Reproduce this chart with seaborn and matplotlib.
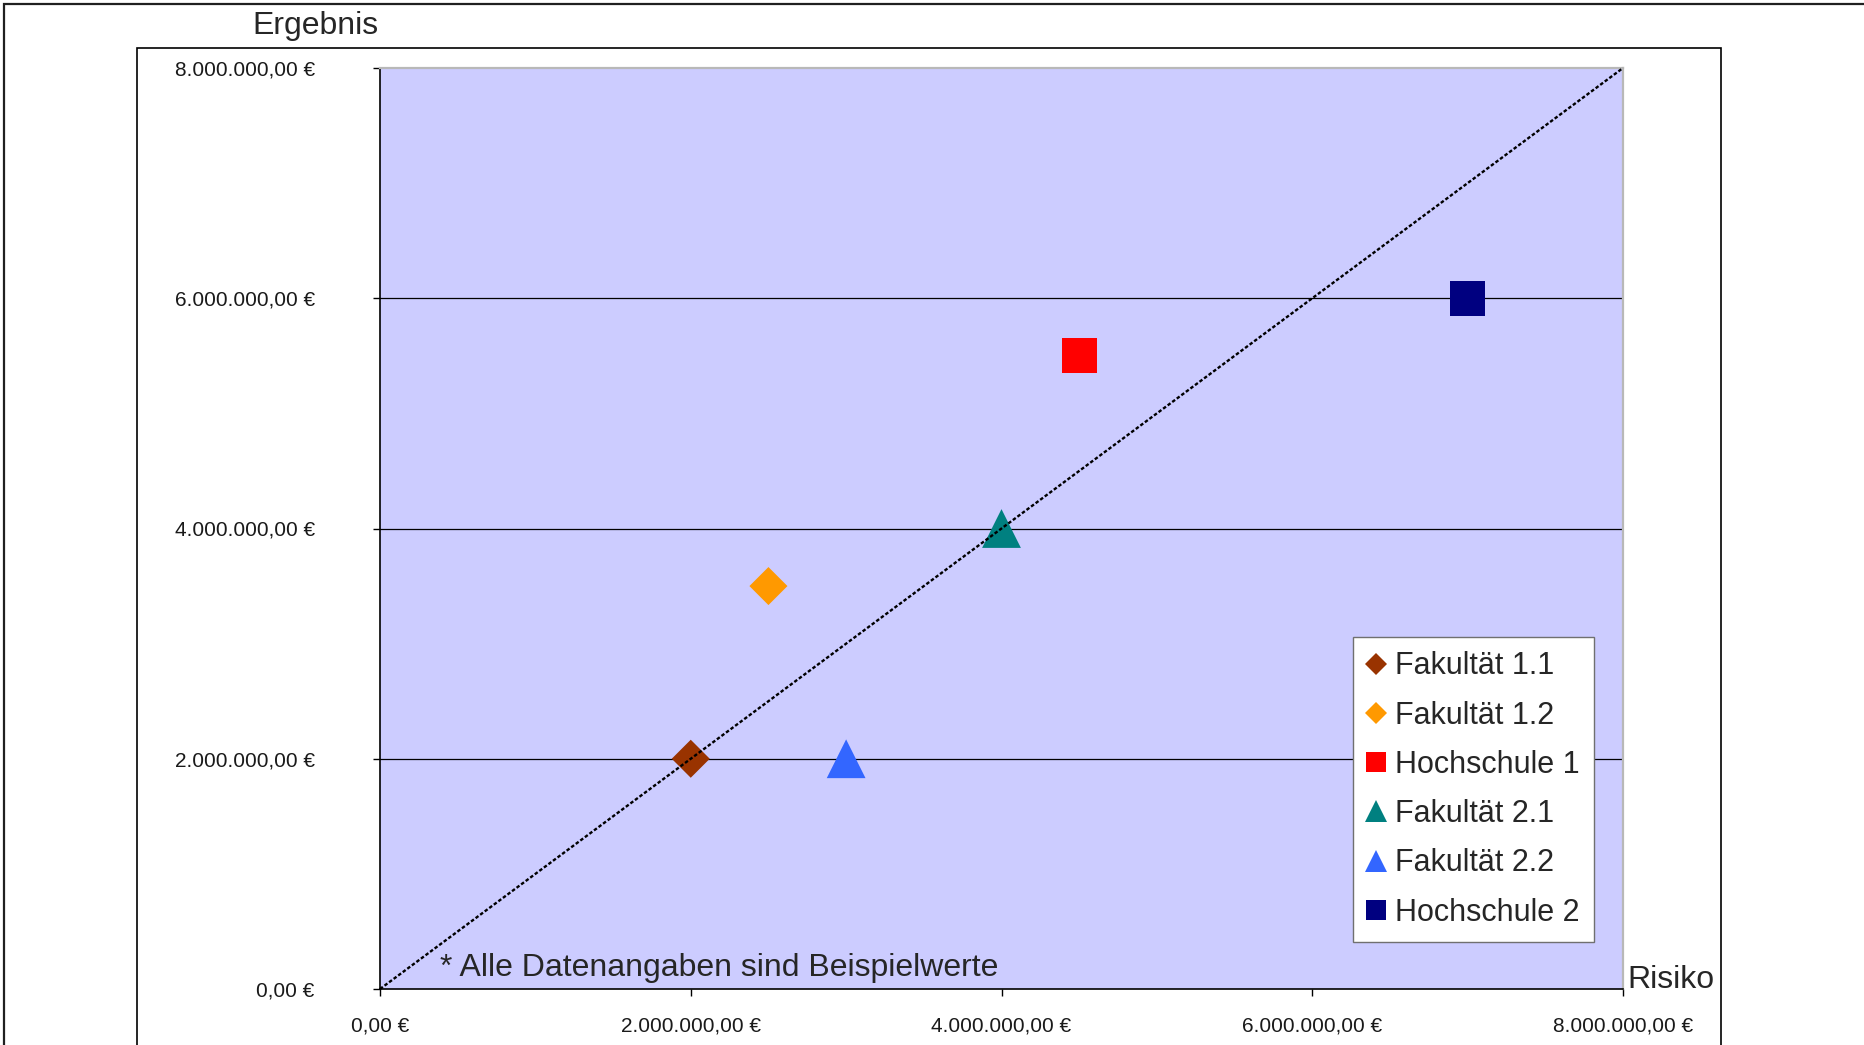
import matplotlib
matplotlib.use("Agg")
import matplotlib.pyplot as plt
from matplotlib.lines import Line2D
from matplotlib.patches import Rectangle
from matplotlib.ticker import FuncFormatter, FixedLocator
import seaborn as sns
import pandas as pd

# --- data -----------------------------------------------------------------
einheiten = ["Fakultät 1.1", "Fakultät 1.2", "Hochschule 1",
             "Fakultät 2.1", "Fakultät 2.2", "Hochschule 2"]
risiko = [2_000_000, 2_500_000, 4_500_000, 4_000_000, 3_000_000, 7_000_000]
ergebnis = [2_000_000, 3_500_000, 5_500_000, 4_000_000, 2_000_000, 6_000_000]
farben = ["#993300", "#FF9900", "#FF0000", "#008080", "#3366FF", "#000080"]
marker = ["D", "D", "s", "^", "^", "s"]
tick_werte = [0, 2_000_000, 4_000_000, 6_000_000, 8_000_000]

# marker sizes (scatter area in pt^2) and legend marker sizes per shape
flaeche = {"D": 375, "s": 640, "^": 780}
legenden_groesse = {"D": 11.7, "s": 14.5, "^": 16.0}

df = pd.DataFrame({"Einheit": einheiten, "Risiko": risiko, "Ergebnis": ergebnis})

# --- figure ---------------------------------------------------------------
sns.set_style("white")
plt.rcParams["font.family"] = ["Liberation Sans", "DejaVu Sans"]

W, H = 1864, 1045
fig = plt.figure(figsize=(W / 100, H / 100), dpi=100, facecolor="white")

# outer and inner chart frames
fig.patches.append(Rectangle((4 / W, -0.2), 1.5, (H - 4) / H + 0.2,
                             transform=fig.transFigure, fill=False,
                             edgecolor="#202020", linewidth=1.6, zorder=0))
fig.patches.append(Rectangle((137 / W, -0.2), (1721 - 137) / W, (H - 48) / H + 0.2,
                             transform=fig.transFigure, fill=False,
                             edgecolor="black", linewidth=1.2, zorder=0))

L, R, T, B = 380, 1623, 68, 989
ax = fig.add_axes([L / W, 1 - B / H, (R - L) / W, (B - T) / H])
ax.set_facecolor("#CCCCFF")

sns.scatterplot(data=df, x="Risiko", y="Ergebnis",
                hue="Einheit", style="Einheit", size="Einheit",
                palette=dict(zip(einheiten, farben)),
                markers=dict(zip(einheiten, marker)),
                sizes={e: flaeche[m] for e, m in zip(einheiten, marker)},
                linewidth=0, legend=False, zorder=3, ax=ax)

# break-even diagonal
ax.plot([0, 8_000_000], [0, 8_000_000], color="black", linewidth=1.7,
        linestyle=(0, (1.5, 0.9)), zorder=4, clip_on=False)

ax.set_xlim(0, 8_000_000)
ax.set_ylim(0, 8_000_000)


def euro(v, _pos=None):
    s = f"{v:,.2f}".replace(",", "X").replace(".", ",").replace("X", ".")
    return s + " €"


ax.xaxis.set_major_locator(FixedLocator(tick_werte))
ax.yaxis.set_major_locator(FixedLocator(tick_werte))
ax.xaxis.set_major_formatter(FuncFormatter(euro))
ax.yaxis.set_major_formatter(FuncFormatter(euro))

for lab in ax.get_xticklabels() + ax.get_yticklabels():
    lab.set_fontsize(15)
    lab.set_color("#1A1A1A")

ax.tick_params(axis="both", direction="out", length=5, width=1, color="black",
               bottom=True, left=True)
ax.tick_params(axis="y", pad=42)
ax.tick_params(axis="x", pad=15)

# horizontal gridlines
ax.grid(False)
for v in tick_werte[1:-1]:
    ax.axhline(v, color="black", linewidth=0.9, zorder=1)

ax.set_xlabel("")
ax.set_ylabel("")

for side in ("left", "bottom"):
    ax.spines[side].set_color("black")
    ax.spines[side].set_linewidth(1.2)
for side in ("top", "right"):
    ax.spines[side].set_color("#B8B8B8")
    ax.spines[side].set_linewidth(1.6)

# axis titles and note
fig.text(315 / W, 1 - 34 / H, "Ergebnis", fontsize=23, ha="center", va="baseline")
fig.text(1627 / W, 1 - 988 / H, "Risiko", fontsize=23, ha="left", va="baseline")
fig.text(440 / W, 1 - 976 / H, "* Alle Datenangaben sind Beispielwerte",
         fontsize=23, ha="left", va="baseline")

# legend
handles = [Line2D([], [], linestyle="none", marker=m, color=c,
                  markersize=legenden_groesse[m], markeredgewidth=0, label=e)
           for e, c, m in zip(einheiten, farben, marker)]
leg = ax.legend(handles=handles, loc="upper left",
                bbox_to_anchor=(1353 / W, 1 - 637 / H),
                bbox_transform=fig.transFigure, borderaxespad=0,
                fontsize=22, frameon=True, fancybox=False, framealpha=1,
                facecolor="white", edgecolor="#707070",
                borderpad=0.47, handlelength=0.55, handletextpad=0.35,
                labelspacing=0.63)
leg.get_frame().set_linewidth(1.0)
leg.set_zorder(5)

fig.savefig("out.png", dpi=100, facecolor="white")
